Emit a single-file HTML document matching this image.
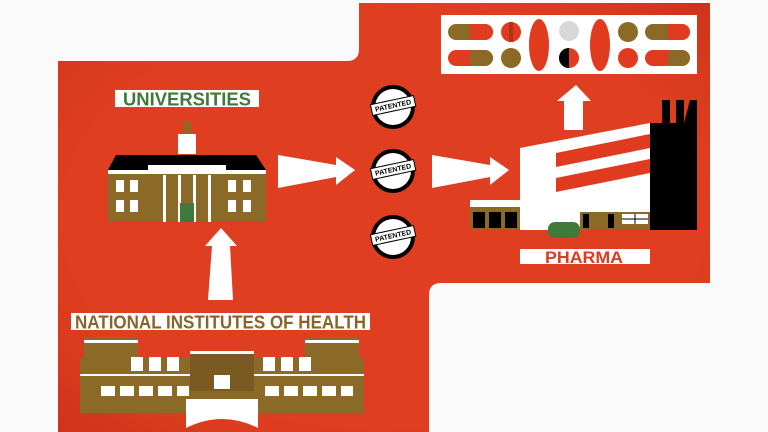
<!DOCTYPE html>
<html><head><meta charset="utf-8"><style>
html,body{margin:0;padding:0;background:#fafafa;width:768px;height:432px;overflow:hidden}
svg{display:block}
text{font-family:"Liberation Sans",sans-serif;font-weight:bold}
</style></head><body>
<svg width="768" height="432" viewBox="0 0 768 432">
<defs>
<radialGradient id="rg" cx="50%" cy="50%" r="70%"><stop offset="0.7" stop-color="#df3f20"/><stop offset="1" stop-color="#cf3419"/></radialGradient>
</defs>
<path d="M58 61 H347 Q359 61 359 49 V3 H710 V283 H441 Q429 283 429 295 V432 H58 Z" fill="url(#rg)"/>

<rect x="441" y="15" width="256" height="59" fill="#fff"/>
<g>
<rect x="448" y="24" width="45" height="16" rx="8" fill="#8b6a28"/><path d="M470 24 H485 a8 8 0 0 1 0 16 H470 Z" fill="#e03a1f"/>
<rect x="448" y="50" width="45" height="16" rx="8" fill="#e03a1f"/><path d="M470 50 H485 a8 8 0 0 1 0 16 H470 Z" fill="#8b6a28"/>
<circle cx="511" cy="32" r="10" fill="#e03a1f"/><rect x="509" y="22" width="4" height="20" fill="#b82e18"/>
<circle cx="511" cy="58" r="10" fill="#8b6a28"/>
<ellipse cx="539" cy="45" rx="10" ry="26" fill="#e03a1f"/>
<circle cx="569" cy="31" r="10" fill="#d8d8d8"/>
<circle cx="569" cy="58" r="10" fill="#e03a1f"/><path d="M569 48 a10 10 0 0 0 0 20 Z" fill="#000"/>
<ellipse cx="600" cy="45" rx="10" ry="26" fill="#e03a1f"/>
<circle cx="628" cy="32" r="10" fill="#8b6a28"/>
<circle cx="628" cy="58" r="10" fill="#e03a1f"/>
<rect x="645" y="24" width="45" height="16" rx="8" fill="#8b6a28"/><path d="M668 24 H682 a8 8 0 0 1 0 16 H668 Z" fill="#e03a1f"/>
<rect x="645" y="50" width="45" height="16" rx="8" fill="#e03a1f"/><path d="M668 50 H682 a8 8 0 0 1 0 16 H668 Z" fill="#8b6a28"/>
</g>

<polygon points="576,85 591,101 583,101 583,130 564,130 564,101 557,101" fill="#fff"/>

<polygon points="650,123 662,123 662,100 670,100 670,123 676,123 676,100 684,100 684,123 690,100 697,100 697,230 650,230" fill="#000"/>
<polygon points="470,200 520,200 520,230 470,230" fill="#8b6a28"/>
<rect x="470" y="200" width="50" height="7" fill="#fff"/>
<rect x="473" y="212" width="12" height="16" fill="#000"/><rect x="489" y="212" width="12" height="16" fill="#000"/><rect x="505" y="212" width="12" height="16" fill="#000"/>
<polygon points="520,148 650,123 650,230 520,230" fill="#fff"/>
<rect x="580" y="212" width="70" height="18" fill="#8b6a28"/>
<rect x="583" y="214" width="6" height="14" fill="#000"/><rect x="608" y="214" width="6" height="14" fill="#000"/>
<rect x="622" y="214" width="26" height="10" fill="#fff"/><line x1="622" y1="219" x2="648" y2="219" stroke="#000"/><line x1="635" y1="214" x2="635" y2="224" stroke="#000"/>
<polygon points="556,153 650,134 650,148 556,167" fill="#e03a1f"/>
<polygon points="556,178 650,159 650,173 556,192" fill="#e03a1f"/>
<rect x="548" y="222" width="32" height="16" rx="7" fill="#3f7a3a"/>

<rect x="520" y="249" width="130" height="15" fill="#fff"/>
<text x="545" y="263" font-size="17" fill="#e03a1f" textLength="78" lengthAdjust="spacingAndGlyphs">PHARMA</text>

<rect x="115" y="90" width="144" height="17" fill="#fff"/>
<text x="123" y="105.5" font-size="18" fill="#3f7a3a" textLength="128" lengthAdjust="spacingAndGlyphs">UNIVERSITIES</text>

<rect x="183" y="122" width="8" height="12" fill="#8b6a28"/>
<rect x="178" y="134" width="18" height="20" fill="#fff"/>
<polygon points="116,155 256,155 266,170 108,170" fill="#000"/>
<rect x="108" y="170" width="158" height="52" fill="#8b6a28"/>
<rect x="108" y="170" width="158" height="4" fill="#fff"/>
<rect x="148" y="165" width="78" height="5" fill="#fff"/>
<g fill="#fff">
<rect x="116" y="180" width="8" height="12"/><rect x="130" y="180" width="8" height="12"/><rect x="116" y="200" width="8" height="12"/><rect x="130" y="200" width="8" height="12"/>
<rect x="228" y="180" width="8" height="12"/><rect x="243" y="180" width="8" height="12"/><rect x="228" y="200" width="8" height="12"/><rect x="243" y="200" width="8" height="12"/>
<rect x="163" y="175" width="3" height="47"/><rect x="178" y="175" width="3" height="47"/><rect x="193" y="175" width="3" height="47"/><rect x="208" y="175" width="3" height="47"/>
</g>
<rect x="180" y="203" width="14" height="19" fill="#3f7a3a"/>

<polygon points="221,228 237,246 230,246 233,300 208,300 212,246 205,246" fill="#fff"/>

<polygon points="278,155 336,165 336,157 355,170 336,185 336,177 278,188" fill="#fff"/>
<polygon points="432,155 490,165 490,157 509,170 490,185 490,177 432,188" fill="#fff"/>

<g font-size="7" text-anchor="middle">
<circle cx="393" cy="107" r="22" fill="#000"/><circle cx="393" cy="107" r="18" fill="#fff"/>
<rect x="371" y="100" width="44" height="11" fill="#fff" stroke="#000" transform="rotate(-12 393 105)"/>
<text x="393" y="108" transform="rotate(-12 393 105)">PATENTED</text>
<circle cx="393" cy="171" r="22" fill="#000"/><circle cx="393" cy="171" r="18" fill="#fff"/>
<rect x="371" y="164" width="44" height="11" fill="#fff" stroke="#000" transform="rotate(-12 393 169)"/>
<text x="393" y="172" transform="rotate(-12 393 169)">PATENTED</text>
<circle cx="393" cy="237" r="22" fill="#000"/><circle cx="393" cy="237" r="18" fill="#fff"/>
<rect x="371" y="230" width="44" height="11" fill="#fff" stroke="#000" transform="rotate(-12 393 235)"/>
<text x="393" y="238" transform="rotate(-12 393 235)">PATENTED</text>
</g>

<rect x="71" y="313" width="299" height="17" fill="#fff"/>
<text x="75" y="328.5" font-size="18" fill="#86652a" textLength="291" lengthAdjust="spacingAndGlyphs">NATIONAL INSTITUTES OF HEALTH</text>

<g>
<rect x="84" y="337" width="54" height="40" fill="#8b6a28"/>
<rect x="305" y="337" width="54" height="40" fill="#8b6a28"/>
<rect x="84" y="340" width="54" height="3" fill="#fff"/><rect x="305" y="340" width="54" height="3" fill="#fff"/>
<rect x="80" y="358" width="284" height="55" fill="#8b6a28"/>
<rect x="190" y="351" width="64" height="40" fill="#7a5a20"/>
<rect x="190" y="351" width="64" height="3" fill="#fff"/>
<rect x="80" y="374" width="110" height="2" fill="#fff"/><rect x="254" y="374" width="110" height="2" fill="#fff"/>
<g fill="#fff">
<rect x="131" y="357" width="12" height="14"/><rect x="149" y="357" width="12" height="14"/><rect x="167" y="357" width="12" height="14"/>
<rect x="263" y="357" width="12" height="14"/><rect x="281" y="357" width="12" height="14"/><rect x="299" y="357" width="12" height="14"/>
<rect x="101" y="386" width="14" height="10"/><rect x="120" y="386" width="14" height="10"/><rect x="139" y="386" width="14" height="10"/><rect x="158" y="386" width="14" height="10"/><rect x="177" y="386" width="12" height="10"/>
<rect x="265" y="386" width="14" height="10"/><rect x="284" y="386" width="14" height="10"/><rect x="303" y="386" width="14" height="10"/><rect x="322" y="386" width="14" height="10"/><rect x="341" y="386" width="12" height="10"/>
<rect x="214" y="375" width="16" height="14"/>
<rect x="186" y="399" width="72" height="8"/>
<path d="M186 407 H258 V428 Q222 410 186 428 Z"/>
</g>
</g>
</svg>
</body></html>
